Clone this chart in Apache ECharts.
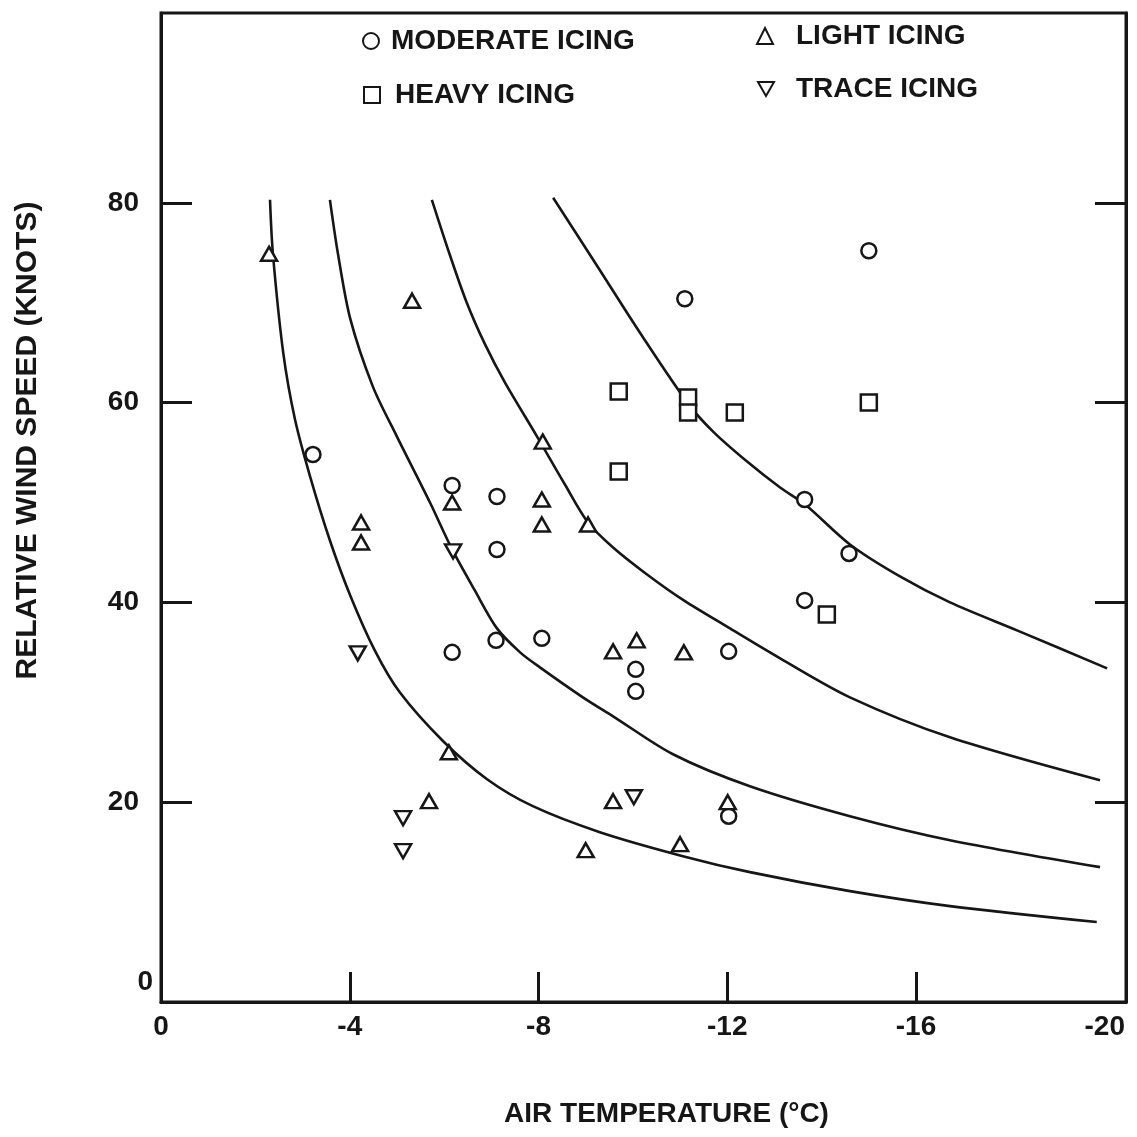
<!DOCTYPE html>
<html><head><meta charset="utf-8">
<script src="https://cdn.jsdelivr.net/npm/echarts@6/dist/echarts.min.js"></script>
<style>html,body{margin:0;padding:0;background:#fff}#c{width:1137px;height:1137px}</style>
</head><body><div id="c"></div>
<script>
// ---- tick labels ----
const xTickLabels = [0, -4, -8, -12, -16, -20];
const xTickMarks = [-4, -8, -12, -16];
const yTickLabels = [20, 40, 60, 80];
const yTickMarks = [20, 40, 60, 80];

// ---- observations [air temperature °C, relative wind speed knots] ----
const moderateIcing = [
  [-3.22,54.8],[-6.17,51.7],[-7.12,50.6],[-7.12,45.3],[-6.17,35.0],[-7.10,36.2],
  [-8.07,36.4],[-10.06,33.3],[-10.06,31.1],[-12.03,35.1],[-12.03,18.6],[-11.1,70.4],
  [-15.0,75.2],[-13.64,50.3],[-14.58,44.9],[-13.64,40.2]
];
const heavyIcing = [
  [-9.70,61.1],[-11.17,60.5],[-11.17,59.0],[-12.16,59.0],[-9.70,53.1],[-15.0,60.0],[-14.11,38.8]
];
const lightIcing = [
  [-2.29,74.9],[-5.32,70.2],[-4.24,48.0],[-4.24,46.0],[-6.17,50.0],[-8.09,56.1],
  [-8.07,50.3],[-8.07,47.8],[-9.05,47.8],[-9.58,35.1],[-10.08,36.2],[-11.08,35.0],
  [-6.10,25.0],[-5.68,20.1],[-9.0,15.2],[-9.58,20.1],[-11.0,15.8],[-12.01,20.0]
];
const traceIcing = [
  [-4.17,34.9],[-6.19,45.1],[-5.13,18.4],[-5.13,15.1],[-10.02,20.5]
];

// ---- boundary curves ----
const curve1 = [
  [-2.31,80.3],[-2.37,75.0],[-2.59,65.0],[-2.84,58.3],[-3.16,52.6],[-3.58,46.2],[-4.01,40.7],
  [-4.53,35.2],[-5.06,31.0],[-5.98,26.1],[-6.91,22.3],[-7.88,19.6],[-9.30,17.0],[-11.06,14.6],
  [-12.48,13.0],[-14.60,11.1],[-16.72,9.6],[-19.83,8.0]
];
const curve2 = [
  [-3.58,80.3],[-3.75,74.9],[-4.01,68.4],[-4.49,61.6],[-5.00,56.6],[-5.70,50.0],[-6.17,45.3],
  [-6.65,41.2],[-7.12,37.4],[-7.61,35.0],[-8.03,33.5],[-8.94,30.5],[-9.58,28.6],[-10.85,24.8],
  [-12.48,21.6],[-14.60,18.6],[-16.72,16.2],[-19.90,13.5]
];
const curve3 = [
  [-5.74,80.3],[-6.12,74.8],[-6.48,70.0],[-6.87,65.8],[-7.29,62.0],[-7.97,56.6],[-8.56,51.8],
  [-9.05,48.0],[-9.58,45.5],[-10.30,42.8],[-11.08,40.2],[-12.02,37.5],[-13.12,34.4],[-14.60,30.5],
  [-16.72,26.5],[-19.90,22.2]
];
const curve4 = [
  [-8.31,80.5],[-9.24,73.7],[-10.15,67.0],[-11.17,59.9],[-11.70,57.1],[-12.42,54.1],[-13.12,51.5],
  [-13.65,49.8],[-14.60,45.8],[-15.66,42.6],[-16.72,40.0],[-18.14,37.2],[-20.05,33.4]
];

const INK = '#161616';
const FONT = "'Liberation Sans', Arial, sans-serif";
const txt = {fontFamily: FONT, fontWeight: 'bold', fontSize: 28, color: INK};

const chart = echarts.init(document.getElementById('c'), null, {renderer: 'canvas'});

function scatter(name, data, symbol, size) {
  return {
    type: 'scatter', name, data, symbol, symbolSize: size,
    itemStyle: {color: '#fff', borderColor: INK, borderWidth: 2.5, opacity: 1},
    emphasis: {disabled: true}, z: 4
  };
}
function curve(data) {
  return {
    type: 'line', data, smooth: 0.3, showSymbol: false, symbol: 'none',
    lineStyle: {color: INK, width: 2.6}, emphasis: {disabled: true}, z: 3, silent: true
  };
}
function legend(name, left, top, padLeft) {
  return {
    data: [name], left, top, padding: 0, itemWidth: 16, itemHeight: 16,
    selectedMode: false, textStyle: Object.assign({}, txt, {padding: [0, 0, 0, padLeft]})
  };
}

chart.setOption({
  backgroundColor: '#ffffff',
  animation: false,
  grid: {left: 161, right: 11, top: 13, bottom: 135, containLabel: false,
         show: true, borderColor: INK, borderWidth: 3, backgroundColor: 'transparent'},
  legend: [
    legend('MODERATE ICING', 362, 27, 7),
    legend('HEAVY ICING', 363, 81, 10),
    legend('LIGHT ICING', 756, 22, 18),
    legend('TRACE ICING', 757, 75, 17)
  ],
  xAxis: [{
    type: 'value', inverse: true, min: -20.45, max: 0,
    axisLine: {show: true, onZero: false, lineStyle: {color: INK, width: 3}},
    axisTick: {show: true, inside: true, length: 30, customValues: xTickMarks,
               lineStyle: {color: INK, width: 3}},
    axisLabel: Object.assign({customValues: xTickLabels, margin: 11}, txt),
    splitLine: {show: false},
    name: 'AIR TEMPERATURE (°C)', nameLocation: 'middle', nameGap: 98,
    nameTextStyle: Object.assign({padding: [0, 0, 0, 46]}, txt)
  }],
  yAxis: [{
    type: 'value', min: 0, max: 99,
    axisLine: {show: true, onZero: false, lineStyle: {color: INK, width: 3}},
    axisTick: {show: true, inside: true, length: 31, customValues: yTickMarks,
               lineStyle: {color: INK, width: 3}},
    axisLabel: Object.assign({customValues: yTickLabels, margin: 22}, txt),
    splitLine: {show: false},
    name: 'RELATIVE WIND SPEED (KNOTS)', nameLocation: 'middle', nameGap: 118, nameRotate: 90,
    nameTextStyle: Object.assign({}, txt, {fontSize: 30, padding: [0, 0, 0, 134]})
  }, {
    type: 'value', min: 0, max: 99, position: 'right',
    axisLine: {show: true, onZero: false, lineStyle: {color: INK, width: 3}},
    axisTick: {show: true, inside: true, length: 31, customValues: yTickMarks,
               lineStyle: {color: INK, width: 3}},
    axisLabel: {show: false}, splitLine: {show: false}
  }],
  graphic: [{
    type: 'text', right: 1137 - 153, top: 968,
    style: {text: '0', fill: INK, font: "bold 28px " + FONT}
  }],
  series: [
    curve(curve1), curve(curve2), curve(curve3), curve(curve4),
    scatter('MODERATE ICING', moderateIcing, 'circle', 15),
    scatter('HEAVY ICING', heavyIcing, 'rect', 16),
    scatter('LIGHT ICING', lightIcing, 'triangle', [16, 14]),
    scatter('TRACE ICING', traceIcing, 'path://M0,0L16,0L8,14Z', [16, 14])
  ]
});
</script>
</body></html>
